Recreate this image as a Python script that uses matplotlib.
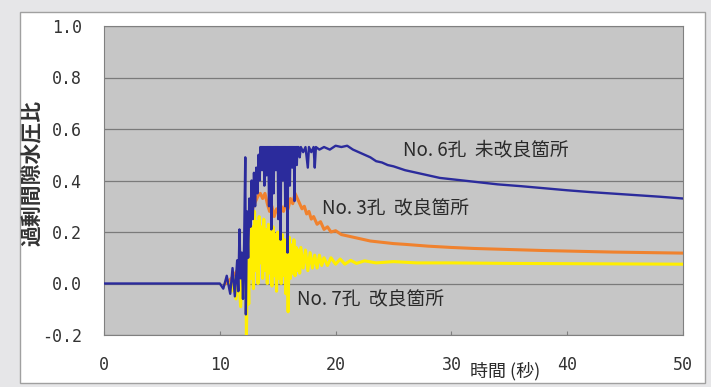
import matplotlib.pyplot as plt
from matplotlib.patches import Rectangle

plt.rcParams['font.family'] = ['Noto Sans CJK JP', 'DejaVu Sans']

# No.6孔 未改良箇所 (blue)
t6 = [0, 10.0, 10.3, 10.6, 10.9, 11.1, 11.3, 11.5, 11.6, 11.7, 11.8, 11.9, 12.0, 12.1,
      12.2, 12.25, 12.35, 12.45, 12.55, 12.65, 12.75, 12.85, 12.95, 13.05, 13.15, 13.25, 13.35,
      13.45, 13.50, 13.55, 13.60, 13.65, 13.70, 13.75, 13.80, 13.85, 13.90, 13.95, 14.00, 14.05,
      14.10, 14.15, 14.20, 14.25, 14.30, 14.35, 14.40, 14.45, 14.50, 14.55, 14.60, 14.65, 14.70,
      14.75, 14.80, 14.85, 14.90, 14.95, 15.00, 15.05, 15.10, 15.15, 15.20, 15.25, 15.30, 15.35,
      15.40, 15.45, 15.50, 15.55, 15.60, 15.65, 15.70, 15.75, 15.80, 15.85, 15.90, 15.95, 16.00,
      16.05, 16.10, 16.15, 16.20, 16.25, 16.30, 16.35, 16.40, 16.45, 16.50, 16.55, 16.60, 16.65,
      16.70, 16.75, 16.80, 16.90, 17.00, 17.2, 17.4, 17.6, 17.7, 17.9, 18.1, 18.2, 18.3, 18.6,
      19.0, 19.5, 20.0, 20.5, 21.0, 21.5, 22.0, 22.5, 23.0, 23.5, 24.0, 24.5, 25.0, 26.0, 27.0,
      28.0, 29.0, 30.0, 32.0, 34.0, 36.0, 38.0, 40.0, 42.0, 44.0, 46.0, 48.0, 50.0]
v6 = [0.0, 0.0, -0.02, 0.03, -0.04, 0.06, -0.05, 0.09, -0.03, 0.21, 0.02, 0.12, -0.06, 0.15,
      0.49, -0.12, 0.28, 0.10, 0.33, 0.22, 0.40, 0.25, 0.43, 0.30, 0.45, 0.35, 0.50,
      0.40, 0.53, 0.47, 0.53, 0.44, 0.53, 0.49, 0.53, 0.38, 0.53, 0.48, 0.53, 0.42,
      0.53, 0.50, 0.53, 0.30, 0.53, 0.46, 0.53, 0.21, 0.53, 0.48, 0.53, 0.35, 0.53,
      0.50, 0.53, 0.44, 0.53, 0.47, 0.53, 0.25, 0.53, 0.49, 0.53, 0.17, 0.53, 0.46,
      0.53, 0.40, 0.53, 0.49, 0.53, 0.30, 0.53, 0.47, 0.53, 0.12, 0.53, 0.48, 0.53,
      0.38, 0.53, 0.50, 0.53, 0.45, 0.53, 0.49, 0.53, 0.32, 0.53, 0.50, 0.53, 0.46,
      0.53, 0.50, 0.53, 0.49, 0.53, 0.51, 0.53, 0.45, 0.53, 0.51, 0.53, 0.45, 0.53, 0.52,
      0.53, 0.52, 0.535, 0.53, 0.535, 0.52, 0.51, 0.50, 0.49, 0.475, 0.47, 0.46, 0.455, 0.44, 0.43,
      0.42, 0.41, 0.405, 0.395, 0.385, 0.378, 0.37, 0.362, 0.355, 0.349, 0.343, 0.337, 0.33]

# No.3孔 改良箇所 (orange)
t3 = [10.5, 11.0, 11.5, 12.0, 12.3, 12.5, 12.7, 12.9, 13.1, 13.3, 13.5, 13.7, 13.9, 14.1, 14.3,
      14.5, 14.7, 14.9, 15.1, 15.3, 15.5, 15.7, 15.9, 16.1, 16.3, 16.5, 16.7, 16.9, 17.1, 17.3,
      17.5, 17.7, 17.9, 18.1, 18.4, 18.7, 19.0, 19.3, 19.6, 20.0, 20.5, 21.0, 21.5, 22.0, 23.0,
      24.0, 25.0, 26.0, 28.0, 30.0, 32.0, 35.0, 38.0, 41.0, 44.0, 47.0, 50.0]
v3 = [0.0, 0.02, 0.05, 0.10, 0.15, 0.22, 0.27, 0.30, 0.32, 0.34, 0.35, 0.33, 0.35, 0.31, 0.28,
      0.30, 0.26, 0.29, 0.27, 0.30, 0.28, 0.31, 0.29, 0.33, 0.31, 0.35, 0.33, 0.31, 0.29, 0.30,
      0.27, 0.28, 0.25, 0.26, 0.23, 0.24, 0.21, 0.22, 0.20, 0.205, 0.19, 0.185, 0.18, 0.175, 0.165,
      0.16, 0.155, 0.152, 0.145, 0.14, 0.136, 0.132, 0.128, 0.125, 0.122, 0.12, 0.118]

# No.7孔 改良箇所 (yellow)
t7 = [10.8, 11.0, 11.2, 11.4, 11.6, 11.8, 12.0, 12.1, 12.2, 12.3, 12.4, 12.5, 12.6, 12.7, 12.8,
      12.9, 13.0, 13.1, 13.2, 13.3, 13.4, 13.5, 13.6, 13.7, 13.8, 13.9, 14.0, 14.1, 14.2, 14.3,
      14.4, 14.5, 14.6, 14.7, 14.8, 14.9, 15.0, 15.1, 15.2, 15.3, 15.4, 15.5, 15.6, 15.7, 15.8,
      15.9, 16.0, 16.1, 16.2, 16.3, 16.4, 16.5, 16.6, 16.7, 16.8, 16.9, 17.0, 17.2, 17.4, 17.6,
      17.8, 18.0, 18.2, 18.4, 18.6, 18.8, 19.0, 19.3, 19.6, 20.0, 20.4, 20.8, 21.3, 21.8, 22.5,
      23.5, 25.0, 27.0, 30.0, 35.0, 40.0, 45.0, 50.0]
v7 = [0.0, -0.03, 0.02, -0.06, 0.05, -0.09, 0.08, -0.05, 0.18, -0.20, 0.12, -0.08, 0.25, 0.02, 0.22,
      -0.02, 0.28, 0.05, 0.24, 0.0, 0.26, 0.08, 0.22, 0.02, 0.25, 0.05, 0.21, 0.0, 0.23, 0.04,
      0.20, -0.01, 0.22, 0.03, 0.19, -0.03, 0.20, 0.02, 0.18, 0.0, 0.19, 0.03, 0.17, -0.04, 0.16,
      -0.11, 0.18, 0.02, 0.15, 0.04, 0.17, 0.03, 0.14, 0.05, 0.13, 0.04, 0.14, 0.06, 0.13, 0.05,
      0.12, 0.06, 0.11, 0.06, 0.11, 0.07, 0.10, 0.07, 0.10, 0.075, 0.095, 0.075, 0.09, 0.078, 0.088,
      0.08, 0.085, 0.08, 0.08, 0.078, 0.077, 0.076, 0.075]

yticks = [-0.2, 0.0, 0.2, 0.4, 0.6, 0.8, 1.0]
xticks = [0, 10, 20, 30, 40, 50]

fig = plt.figure(figsize=(7.11, 3.87), dpi=100)
fig.patch.set_facecolor('#e6e6e8')
fig.patches.append(Rectangle((20 / 711, 1 - 383 / 387), 685 / 711, 371 / 387,
                             transform=fig.transFigure, facecolor='white',
                             edgecolor='#a0a0a0', lw=1, zorder=-10))

ax = fig.add_axes([104 / 711, 1 - 335 / 387, 579 / 711, 309 / 387])
ax.set_zorder(1)
ax.set_facecolor('#c6c6c6')
for s in ax.spines.values():
    s.set_color('#808080')

ax.plot(t7, v7, color='#ffee00', lw=2.2, zorder=3)
ax.plot(t3, v3, color='#f0822e', lw=2.2, zorder=4)
ax.plot(t6, v6, color='#2b2b9c', lw=1.7, zorder=5)

ax.set_xlim(0, 50)
ax.set_ylim(-0.2, 1.0)
ax.set_yticks(yticks)
ax.set_yticklabels([f'{y:.1f}' for y in yticks], family='DejaVu Sans Mono')
ax.set_xticks(xticks)
ax.set_xticklabels([str(x) for x in xticks], family='DejaVu Sans Mono')
ax.grid(axis='y', color='#7a7a7a', lw=0.9)
ax.set_axisbelow(True)
ax.tick_params(axis='y', length=0, pad=16, labelsize=12, labelcolor='#333333')
ax.tick_params(axis='x', direction='in', length=3, color='#808080', pad=15,
               labelsize=12, labelcolor='#333333')

ax.text(25.8, 0.52, 'No. 6孔  未改良箇所', fontsize=13.5, color='#2a2a2a', va='center', zorder=6)
ax.text(18.8, 0.29, 'No. 3孔  改良箇所', fontsize=13.5, color='#2a2a2a', va='center', zorder=6)
ax.text(16.7, -0.065, 'No. 7孔  改良箇所', fontsize=13.5, color='#2a2a2a', va='center', zorder=6)

fig.text(505 / 711, 1 - 371 / 387, '時間 (秒)', fontsize=13, color='#2a2a2a',
         ha='center', va='center')
fig.text(32 / 711, 1 - 173 / 387, '過剰間隙水圧比', fontsize=15, color='#333333',
         ha='center', va='center', rotation=90, fontweight='bold')

fig.savefig('out.png', dpi=100, facecolor=fig.get_facecolor())
